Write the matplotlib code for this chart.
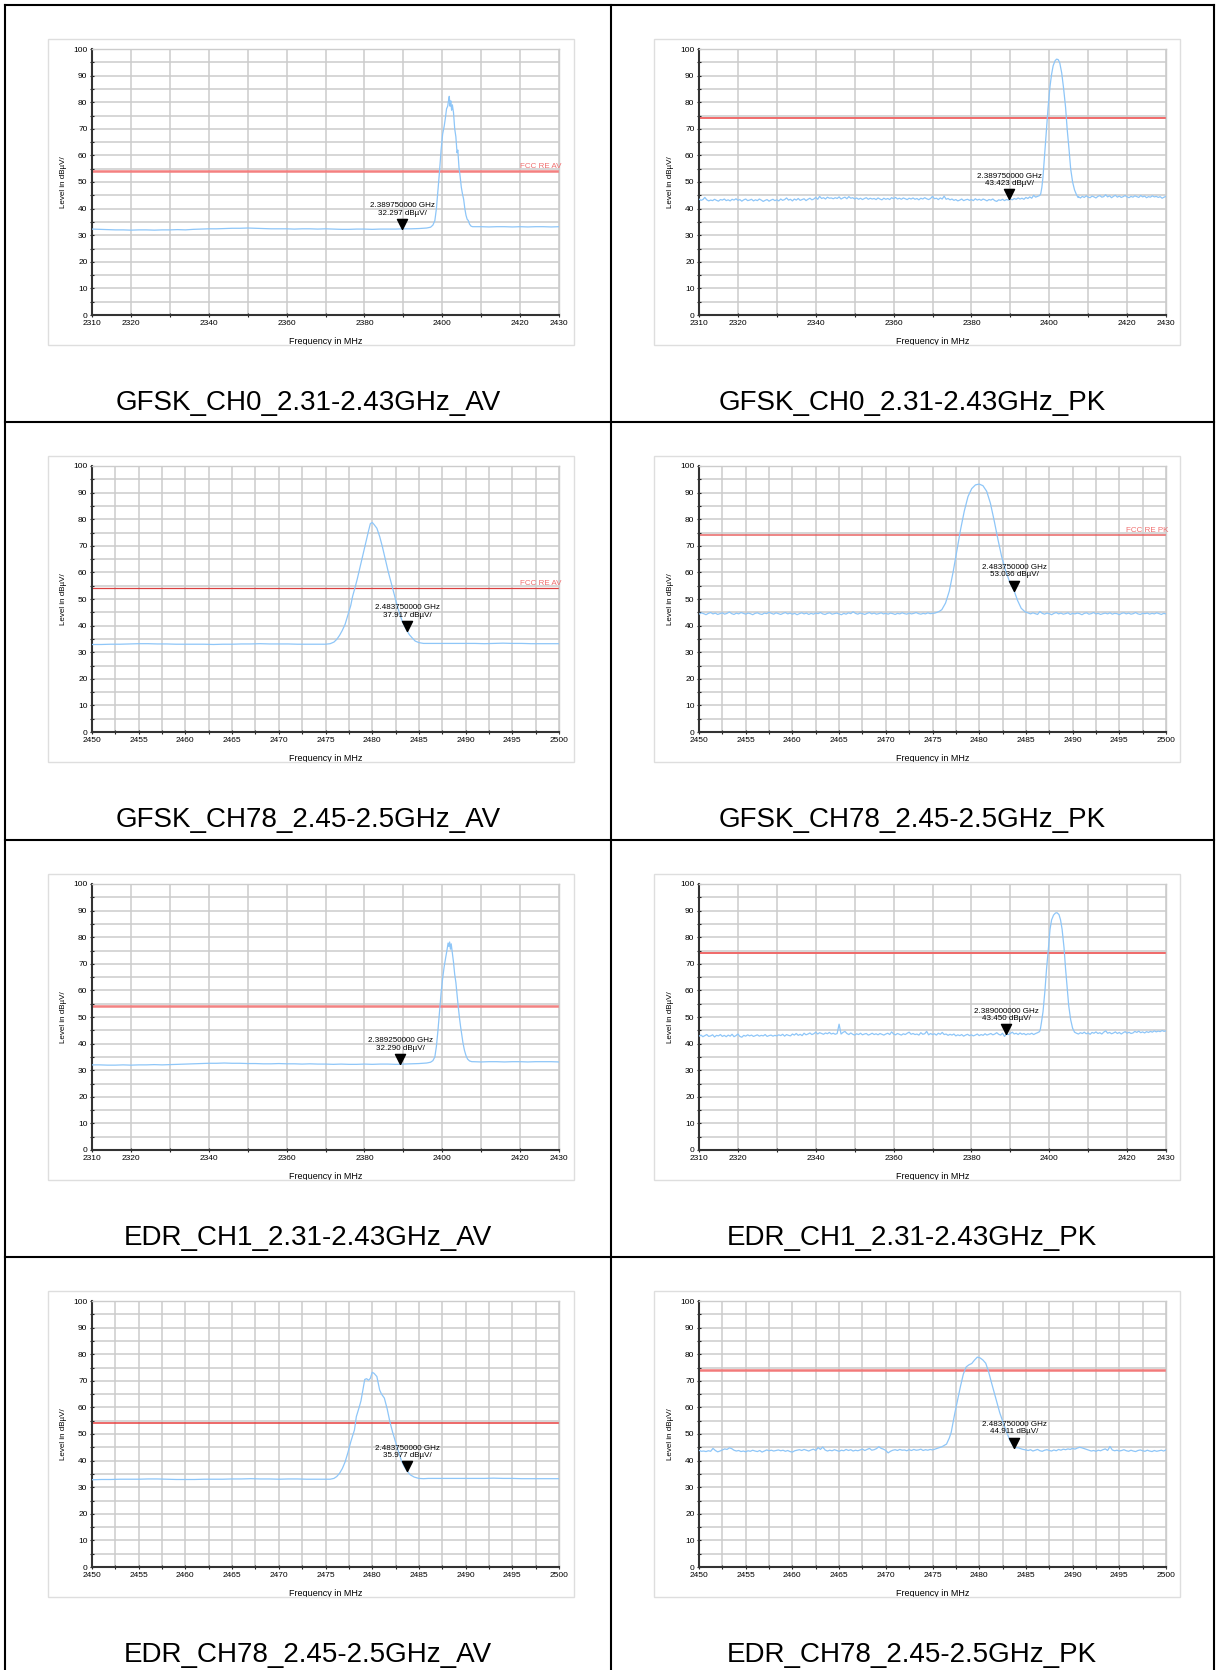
import numpy as np
import matplotlib
matplotlib.use("Agg")
import matplotlib.pyplot as plt
from matplotlib.patches import Rectangle
from matplotlib.lines import Line2D

plt.rcParams['font.family'] = ['Liberation Sans', 'DejaVu Sans']

# ---------------- panel info ----------------
titles = ["GFSK_CH0_2.31-2.43GHz_AV", "GFSK_CH0_2.31-2.43GHz_PK",
          "GFSK_CH78_2.45-2.5GHz_AV", "GFSK_CH78_2.45-2.5GHz_PK",
          "EDR_CH1_2.31-2.43GHz_AV", "EDR_CH1_2.31-2.43GHz_PK",
          "EDR_CH78_2.45-2.5GHz_AV", "EDR_CH78_2.45-2.5GHz_PK"]
spans = [(2310, 2430), (2310, 2430), (2450, 2500), (2450, 2500),
         (2310, 2430), (2310, 2430), (2450, 2500), (2450, 2500)]
limit_db = [54, 74, 54, 74, 54, 74, 54, 74]
limit_names = ["FCC RE AV", "", "FCC RE AV", "FCC RE PK", "", "", "", ""]
marker_mhz = [2389.75, 2389.75, 2483.75, 2483.75, 2389.25, 2389.0, 2483.75, 2483.75]
marker_db = [32.297, 43.423, 37.917, 53.036, 32.290, 43.450, 35.977, 44.911]
marker_ghz = ["2.389750000", "2.389750000", "2.483750000", "2.483750000",
              "2.389250000", "2.389000000", "2.483750000", "2.483750000"]

wide_ticks = [2310, 2320, 2340, 2360, 2380, 2400, 2420, 2430]
narrow_ticks = [2450, 2455, 2460, 2465, 2470, 2475, 2480, 2485, 2490, 2495, 2500]
y_ticks = [0, 10, 20, 30, 40, 50, 60, 70, 80, 90, 100]

# floor grids: (start, step) of the low part and the high part of each trace
lo_grid = [(2310, 2), (2310, 0.5), (2450, 1), (2450, 0.25),
           (2310, 2), (2310, 0.5), (2450, 1), (2450, 0.25)]
hi_grid = [(2408, 2), (2407.5, 0.5), (2486, 1), (2485.5, 0.25),
           (2408, 2), (2407.5, 0.5), (2486, 1), (2485.25, 0.25)]

# ---------------- traces (dBuV/) ----------------
# 1 GFSK CH0 AV
p1_lo = [32.3, 32.2, 32.1, 32.0, 32.0, 31.9, 32.0, 32.0, 31.9, 32.0, 32.0, 32.1, 32.0,
         32.2, 32.3, 32.4, 32.4, 32.5, 32.6, 32.6, 32.7, 32.6, 32.5, 32.4, 32.4, 32.4,
         32.3, 32.4, 32.4, 32.3, 32.4, 32.3, 32.2, 32.2, 32.3, 32.3, 32.2, 32.3, 32.3,
         32.3, 32.4, 32.4, 32.5, 32.7]
p1_pk_f = [2397.0, 2397.6, 2398.1, 2398.5, 2398.9, 2399.3, 2399.7, 2400.1, 2400.5, 2400.8,
           2401.1, 2401.4, 2401.6, 2401.8, 2402.0, 2402.2, 2402.4, 2402.6, 2402.9, 2403.2,
           2403.5, 2403.8, 2404.0, 2404.3, 2404.6, 2404.9, 2405.2, 2405.5, 2405.8, 2406.1,
           2406.4, 2406.7, 2407.0, 2407.4, 2407.8]
p1_pk_db = [33.0, 33.8, 35.5, 40.0, 47.0, 54.0, 62.0, 68.0, 71.0, 74.0,
            77.5, 78.5, 80.5, 82.2, 78.5, 80.5, 77.0, 79.0, 76.0, 70.0,
            67.0, 61.0, 62.0, 55.5, 52.0, 48.0, 45.5, 43.5, 40.0, 37.5,
            36.0, 35.5, 34.2, 33.4, 33.2]
p1_hi = [33.2, 33.2, 33.1, 33.2, 33.2, 33.1, 33.2, 33.1, 33.2, 33.2, 33.1, 33.2]

# 2 GFSK CH0 PK
p2_lo = [43.6, 43.1, 43.4, 44.2, 43.3, 42.9, 43.2, 43.0, 43.5, 43.1,
         42.8, 43.4, 43.2, 43.6, 43.0, 43.3, 42.9, 43.5, 43.2, 43.7,
         43.1, 43.4, 42.8, 43.3, 43.6, 43.0, 43.2, 43.5, 42.9, 43.3,
         43.0, 43.6, 43.2, 42.7, 43.1, 43.4, 42.8, 43.2, 43.5, 43.0,
         43.3, 42.9, 43.6, 43.1, 43.4, 44.0, 43.2, 43.5, 42.9, 43.6,
         43.2, 43.8, 43.1, 43.4, 43.7, 43.0, 43.5, 43.9, 43.3, 43.6,
         44.2, 43.5, 44.6, 43.8, 44.1, 43.6, 44.3, 43.9, 44.0, 43.7,
         44.1, 43.8, 44.4, 43.6, 44.0, 44.3, 43.7, 44.5, 43.9, 44.1,
         43.6, 44.0, 43.5, 43.9, 43.4, 43.8, 44.1, 43.5, 43.9, 43.6,
         43.8, 43.4, 44.0, 43.6, 43.3, 43.9, 43.5, 43.8, 43.4, 44.1,
         43.7, 44.2, 43.6, 43.9, 43.5, 44.0, 43.7, 43.4, 43.9, 43.6,
         44.0, 43.5, 43.8, 43.3, 43.9, 43.6, 44.1, 43.7, 43.4, 43.8,
         44.6, 43.7, 43.9, 43.4, 44.0, 43.6, 44.7, 43.5, 43.8, 43.3,
         43.6, 43.1, 43.4, 42.9, 43.2, 43.6, 43.0, 43.3, 43.5, 43.1,
         43.4, 43.0, 43.7, 43.2, 43.5, 43.1, 43.6, 43.3, 42.9, 43.4,
         43.2, 43.6, 43.0, 42.7, 43.3, 43.1, 43.5, 43.0, 43.4, 43.2,
         43.6, 43.3, 43.8, 43.5, 44.0, 43.6, 43.9, 43.5, 44.2, 43.8,
         44.4, 43.9, 45.0, 44.3, 44.6, 44.9]
p2_pk_f = [2397.8, 2398.1, 2398.4, 2398.8, 2399.3, 2399.7, 2400.2, 2400.6, 2401.0, 2401.5,
           2401.9, 2402.3, 2402.7, 2403.2, 2403.7, 2404.2, 2404.6, 2405.1, 2405.5, 2406.0,
           2406.5, 2407.0, 2407.4]
p2_pk_db = [45.5, 48.0, 52.0, 60.0, 70.0, 78.0, 86.0, 90.5, 93.7, 95.6,
            96.2, 96.0, 94.8, 91.0, 85.0, 78.0, 70.0, 62.0, 55.0, 50.0,
            47.0, 45.2, 44.2]
p2_hi = [44.5, 44.0, 44.6, 44.2, 44.8, 44.3, 44.1, 44.7, 44.4, 44.0,
         44.6, 44.9, 44.3, 44.5, 45.2, 44.4, 44.8, 44.1, 44.6, 45.0,
         44.3, 44.7, 44.2, 44.5, 44.9, 44.4, 44.1, 44.6, 44.3, 44.8,
         44.5, 44.2, 44.9, 44.4, 44.7, 44.1, 44.5, 44.3, 44.8, 44.4,
         44.6, 44.2, 44.5, 43.9, 44.3, 44.6]

# 3 GFSK CH78 AV
p3_lo = [32.9, 32.9, 33.0, 33.0, 33.1, 33.2, 33.2, 33.1, 33.1, 33.0, 33.0, 33.0, 33.0,
         32.9, 33.0, 33.0, 33.1, 33.1, 33.2, 33.1, 33.1, 33.1, 33.0, 33.0, 33.0, 33.0]
p3_pk_f = [2475.5, 2475.9, 2476.2, 2476.5, 2476.8, 2477.1, 2477.4, 2477.7, 2477.9, 2478.1,
           2478.4, 2478.7, 2479.0, 2479.3, 2479.6, 2479.8, 2480.0, 2480.2, 2480.5, 2480.8,
           2481.1, 2481.4, 2481.7, 2482.0, 2482.3, 2482.6, 2482.9, 2483.2, 2483.5, 2483.75,
           2484.0, 2484.3, 2484.6, 2485.0, 2485.5]
p3_pk_db = [33.2, 33.8, 34.8, 36.3, 38.2, 40.5, 44.0, 47.5, 51.0, 53.5,
            57.5, 62.0, 66.5, 71.0, 75.5, 78.3, 78.8, 78.0, 76.6, 73.5,
            69.5, 65.0, 60.5, 56.5, 52.5, 48.5, 44.8, 41.8, 39.6, 37.9,
            36.5, 35.3, 34.2, 33.6, 33.3]
p3_hi = [33.3, 33.3, 33.3, 33.3, 33.3, 33.3, 33.2, 33.3, 33.4, 33.3, 33.3, 33.2, 33.2, 33.2, 33.2]

# 4 GFSK CH78 PK
p4_lo = [44.3, 44.8, 44.5, 44.1, 44.6, 44.9, 44.4, 44.7, 44.2, 44.5,
         44.8, 44.3, 44.6, 45.1, 44.5, 44.2, 44.7, 44.4, 44.9, 44.6,
         44.3, 44.7, 44.5, 44.1, 44.6, 44.8, 44.4, 44.2, 44.7, 44.5,
         45.0, 44.6, 44.3, 44.8, 44.5, 44.2, 44.6, 44.9, 44.4, 44.7,
         44.3, 44.6, 44.1, 44.5, 44.8, 44.4, 44.7, 44.2, 44.6, 44.3,
         44.7, 44.5, 44.9, 44.4, 44.2, 44.6, 44.8, 44.3, 44.5, 44.7,
         44.4, 44.1, 44.6, 44.3, 44.8, 44.5, 45.2, 44.6, 44.3, 44.7,
         44.5, 44.2, 44.6, 44.9, 44.4, 44.7, 44.3, 44.5, 44.8, 44.4,
         44.6, 44.3, 44.7, 44.5, 44.2, 44.6, 44.4, 44.8, 44.5, 44.3,
         44.7, 44.4, 44.6, 44.9, 44.5, 44.3, 44.6, 44.4, 44.8, 44.5,
         44.6, 44.7, 45.0, 45.4]
p4_pk_f = [2476.0, 2476.4, 2476.8, 2477.2, 2477.6, 2478.0, 2478.4, 2478.8, 2479.2, 2479.6,
           2480.0, 2480.4, 2480.8, 2481.2, 2481.6, 2482.0, 2482.4, 2482.8, 2483.2, 2483.75,
           2484.1, 2484.5, 2484.9, 2485.2]
p4_pk_db = [46.0, 48.5, 53.0, 60.0, 68.0, 76.0, 83.0, 88.5, 91.5, 92.9,
            93.2, 92.6, 90.5, 86.0, 79.5, 72.5, 66.0, 61.0, 57.0, 53.0,
            49.5, 46.5, 45.2, 44.8]
p4_hi = [44.4, 44.8, 44.5, 44.2, 45.3, 44.6, 44.3, 44.7, 44.5, 44.1,
         44.6, 44.9, 44.4, 44.7, 44.3, 44.5, 44.8, 44.2, 44.6, 44.4,
         44.7, 44.5, 44.1, 44.6, 44.8, 44.3, 44.5, 44.9, 44.4, 44.6,
         44.2, 44.5, 44.7, 44.4, 44.8, 44.3, 44.6, 44.5, 44.1, 44.6,
         44.8, 44.4, 44.7, 44.3, 44.5, 44.9, 44.4, 44.2, 44.6, 44.5,
         44.7, 44.3, 44.6, 44.4, 44.8, 44.5, 44.2, 44.6, 44.4]

# 5 EDR CH1 AV
p5_lo = [32.0, 32.0, 31.9, 31.9, 32.0, 31.9, 32.0, 32.0, 32.1, 32.0, 32.1,
         32.2, 32.3, 32.4, 32.5, 32.6, 32.6, 32.7, 32.6, 32.6, 32.5,
         32.5, 32.4, 32.4, 32.5, 32.4, 32.4, 32.3, 32.4, 32.3, 32.3,
         32.2, 32.3, 32.2, 32.2, 32.3, 32.2, 32.3, 32.3, 32.2, 32.3,
         32.4, 32.5, 32.7]
p5_pk_f = [2397.0, 2397.6, 2398.1, 2398.5, 2398.9, 2399.3, 2399.7, 2400.1, 2400.5, 2400.9,
           2401.2, 2401.5, 2401.7, 2401.9, 2402.1, 2402.3, 2402.6, 2402.9, 2403.2, 2403.5,
           2403.8, 2404.1, 2404.4, 2404.7, 2405.0, 2405.3, 2405.7, 2406.1, 2406.5, 2407.0,
           2407.6]
p5_pk_db = [33.0, 33.6, 35.0, 39.0, 45.0, 52.0, 59.0, 64.5, 69.0, 72.5,
            75.0, 77.8, 76.5, 78.2, 75.5, 77.5, 74.0, 70.5, 66.0, 63.0,
            58.5, 54.0, 50.0, 46.5, 43.5, 40.5, 37.5, 35.5, 34.2, 33.5,
            33.2]
p5_hi = [33.2, 33.1, 33.2, 33.2, 33.1, 33.2, 33.2, 33.1, 33.2, 33.2, 33.2, 33.1]

# 6 EDR CH1 PK
p6_lo = [42.8, 43.2, 42.6, 43.0, 43.4, 42.7, 42.9, 43.3, 42.5, 43.1,
         42.9, 43.4, 42.7, 43.1, 42.6, 43.2, 42.8, 43.5, 42.6, 43.0,
         43.6, 42.7, 42.4, 43.1, 42.8, 43.3, 42.9, 43.2, 42.7, 43.0,
         43.3, 42.8, 43.1, 42.9, 43.4, 42.7, 43.0, 43.2, 42.8, 43.1,
         42.9, 43.3, 43.0, 43.5, 42.8, 43.4, 43.1, 42.9, 43.6, 43.2,
         43.8, 43.1, 43.5, 43.0, 43.9, 43.3, 43.6, 44.0, 43.4, 43.7,
         44.3, 43.6, 44.1, 43.8, 43.5, 44.0, 43.7, 44.2, 43.6, 43.9,
         43.5, 43.8, 47.3, 43.6, 44.2, 44.6, 43.8, 43.4, 44.0, 43.5,
         43.2, 43.7, 43.4, 43.9, 43.3, 43.6, 43.8, 43.2, 43.5, 43.9,
         43.4, 43.7, 43.3, 43.8, 43.5, 43.2, 43.6, 43.9, 43.4, 44.4,
         43.6, 43.3, 43.8, 43.5, 43.2, 43.7, 43.4, 43.9, 44.3, 43.5,
         43.8, 43.4, 43.6, 43.2, 44.1, 43.5, 43.7, 44.6, 43.3, 43.8,
         43.4, 43.7, 43.2, 43.9, 43.5, 44.2, 43.4, 43.6, 43.1, 43.5,
         43.2, 43.6, 42.9, 43.3, 43.0, 43.4, 42.8, 43.2, 43.5, 43.0,
         43.3, 42.9, 43.2, 43.6, 43.0, 43.4, 43.1, 43.7, 43.2, 43.5,
         43.8, 43.3, 43.6, 44.1, 43.5, 43.2, 43.9, 42.7, 43.6, 43.4,
         43.8, 44.3, 43.6, 43.9, 43.4, 44.0, 43.5, 43.8, 43.3, 43.7,
         43.5, 43.9, 43.4, 43.8, 44.1, 44.5]
p6_pk_f = [2397.7, 2398.0, 2398.4, 2398.9, 2399.3, 2399.8, 2400.2, 2400.6, 2401.1, 2401.6,
           2402.0, 2402.5, 2402.9, 2403.3, 2403.8, 2404.2, 2404.6, 2405.0, 2405.5, 2406.0,
           2406.5, 2407.0]
p6_pk_db = [45.3, 48.0, 52.0, 60.0, 68.0, 76.0, 83.0, 86.5, 88.3, 89.1,
            89.2, 88.5, 86.5, 83.0, 76.0, 68.0, 61.0, 54.3, 49.0, 45.8,
            44.3, 43.9]
p6_hi = [43.6, 44.1, 43.8, 44.3, 43.7, 44.0, 43.5, 44.2, 43.9, 44.4,
         43.8, 44.1, 43.6, 44.3, 44.8, 43.9, 44.2, 43.7, 44.0, 44.4,
         43.8, 44.2, 43.6, 44.1, 44.5, 43.9, 44.3, 43.8, 44.0, 44.6,
         44.2, 44.7, 44.1, 44.4, 44.0, 44.5, 44.2, 44.6, 44.3, 44.8,
         44.4, 44.7, 44.5, 44.9, 44.6, 44.8]

# 7 EDR CH78 AV
p7_lo = [32.8, 32.9, 32.9, 33.0, 33.0, 33.0, 33.1, 33.1, 33.0, 32.9, 32.9, 32.9, 33.0,
         33.0, 33.0, 33.1, 33.1, 33.2, 33.1, 33.1, 33.0, 33.1, 33.1, 33.0, 33.0, 33.0]
p7_pk_f = [2475.5, 2475.9, 2476.2, 2476.5, 2476.8, 2477.1, 2477.4, 2477.7, 2477.9, 2478.1,
           2478.3, 2478.6, 2478.8, 2479.0, 2479.2, 2479.4, 2479.6, 2479.8, 2480.0, 2480.2,
           2480.5, 2480.8, 2481.0, 2481.3, 2481.6, 2481.9, 2482.2, 2482.5, 2482.8, 2483.1,
           2483.4, 2483.75, 2484.1, 2484.5, 2485.0, 2485.5]
p7_pk_db = [33.0, 33.3, 34.0, 35.2, 37.0, 39.5, 43.0, 47.0, 49.3, 51.5,
            56.5, 60.0, 62.5, 66.5, 70.5, 70.8, 70.2, 70.9, 73.2, 72.8,
            71.6, 66.5, 65.0, 63.5, 59.5, 54.5, 50.5, 47.0, 43.5, 40.3,
            38.0, 36.0, 34.6, 33.8, 33.3, 33.2]
p7_hi = [33.3, 33.3, 33.3, 33.3, 33.3, 33.3, 33.3, 33.4, 33.3, 33.3, 33.2, 33.2, 33.2, 33.2, 33.2]

# 8 EDR CH78 PK
p8_lo = [43.9, 43.5, 43.6, 43.4, 43.7, 43.5, 44.6, 43.8, 43.3, 43.6,
         44.0, 44.4, 44.2, 44.8, 44.5, 43.9, 43.6, 43.8, 43.4, 43.6,
         43.3, 43.7, 43.5, 43.9, 43.6, 43.4, 43.8, 43.2, 43.6, 44.0,
         43.7, 43.9, 43.6, 43.8, 44.0, 43.7, 43.9, 43.5, 43.8, 43.4,
         43.2, 43.7, 43.9, 44.1, 43.8, 44.2, 43.9, 43.6, 44.0, 44.3,
         43.8, 44.9, 44.2, 45.1, 44.0, 43.6, 43.9, 43.7, 44.1, 43.8,
         43.5, 43.9, 43.7, 44.2, 43.8, 44.1, 43.6, 43.9, 43.7, 44.0,
         44.3, 43.8, 44.2, 44.6, 43.9, 44.1, 44.5, 45.2, 44.6, 44.3,
         43.8, 42.9, 43.5, 43.9, 44.1, 43.8, 44.2, 43.9, 44.0, 43.7,
         44.1, 43.8, 44.2, 43.9, 44.0, 44.3, 43.8, 44.1, 43.9, 44.2,
         44.0, 44.3, 44.6, 44.9]
p8_pk_f = [2476.0, 2476.5, 2476.8, 2477.0, 2477.4, 2477.7, 2478.0, 2478.3, 2478.6, 2478.9,
           2479.2, 2479.5, 2479.8, 2480.1, 2480.4, 2480.7, 2481.0, 2481.3, 2481.7, 2482.2,
           2482.8, 2483.3, 2483.75, 2484.2, 2484.6, 2485.0]
p8_pk_db = [45.2, 46.2, 48.5, 50.6, 58.0, 63.0, 68.0, 72.5, 75.2, 76.0,
            76.5, 77.8, 78.9, 78.6, 77.8, 76.6, 73.5, 69.5, 64.4, 58.0,
            51.9, 47.5, 44.9, 44.8, 44.3, 44.0]
p8_hi = [43.8, 44.1, 43.6, 43.9, 44.2, 43.7, 43.5, 43.9, 44.1, 43.8,
         43.6, 44.0, 43.7, 44.2, 43.9, 44.3, 44.1, 44.4, 44.2, 44.6,
         44.3, 44.7, 45.0, 44.8, 44.5, 44.2, 43.9, 43.6, 43.8, 43.5,
         43.9, 43.7, 44.1, 44.4, 43.8, 45.3, 44.0, 43.7, 43.9, 43.6,
         43.8, 44.1, 43.7, 43.5, 43.9, 43.6, 43.4, 43.8, 44.0, 43.7,
         43.5, 43.9, 43.6, 43.4, 43.8, 43.5, 43.7, 43.9, 43.6, 44.0]

traces = [(p1_lo, p1_pk_f, p1_pk_db, p1_hi), (p2_lo, p2_pk_f, p2_pk_db, p2_hi),
          (p3_lo, p3_pk_f, p3_pk_db, p3_hi), (p4_lo, p4_pk_f, p4_pk_db, p4_hi),
          (p5_lo, p5_pk_f, p5_pk_db, p5_hi), (p6_lo, p6_pk_f, p6_pk_db, p6_hi),
          (p7_lo, p7_pk_f, p7_pk_db, p7_hi), (p8_lo, p8_pk_f, p8_pk_db, p8_hi)]

# limit line look per panel
lim_colors = ['#f48080', '#f06a6a', '#d94040', '#e86464', '#f28282', '#f06868', '#e84040', '#f27a7a']
lim_widths = [1.8, 1.4, 0.9, 1.1, 1.8, 1.4, 1.1, 1.8]
trace_color = '#8ec6f8'
grid_color = '#cccccc'


def build_trace(i):
    lo, pf, pdb, hi = traces[i]
    f_lo = lo_grid[i][0] + lo_grid[i][1] * np.arange(len(lo))
    f_hi = hi_grid[i][0] + hi_grid[i][1] * np.arange(len(hi))
    f = np.concatenate([f_lo, pf, f_hi])
    db = np.concatenate([lo, pdb, hi])
    return f, db


# ---------------- layout (pixels) ----------------
W, H = 1216, 1670
fig = plt.figure(figsize=(W / 100, H / 100), dpi=100)
fig.patch.set_facecolor('white')

row_tops = [5, 422, 840, 1257]
axes_left = [92, 699]
frame_left = [48, 654]
cell_center = [308, 912]
ax_w, ax_h = 467, 266


def fx(x):
    return x / W


def fy(y):
    return 1 - y / H


for i in range(8):
    r, c = divmod(i, 2)
    top = row_tops[r]

    # light frame round the chart picture
    fig.add_artist(Rectangle((fx(frame_left[c]), fy(top + 34 + 306)), 526 / W, 306 / H,
                             transform=fig.transFigure, fill=False, ec='#dedede', lw=1.0))

    ax = fig.add_axes([fx(axes_left[c]), fy(top + 44 + ax_h), ax_w / W, ax_h / H])
    f0, f1 = spans[i]
    ax.set_xlim(f0, f1)
    ax.set_ylim(0, 100)

    if f0 == 2310:
        ax.set_xticks(wide_ticks)
        ax.set_xticks(np.arange(f0, f1 + 1, 10), minor=True)
        ax.set_xticklabels([str(t) for t in wide_ticks])
    else:
        ax.set_xticks(narrow_ticks)
        ax.set_xticks(np.arange(f0, f1 + 0.1, 2.5), minor=True)
        ax.set_xticklabels([str(t) for t in narrow_ticks])
    ax.set_yticks(y_ticks)
    ax.set_yticks(np.arange(5, 100, 10), minor=True)
    ax.set_yticklabels([str(t) for t in y_ticks])

    ax.set_axisbelow(True)
    ax.grid(True, which='both', color=grid_color, lw=1.1)
    ax.tick_params(which='both', direction='inout', length=3.5, width=0.8,
                   color='#222222', labelsize=6, pad=1.5)
    for s in ['left', 'bottom']:
        ax.spines[s].set_color('#333333')
        ax.spines[s].set_linewidth(1.5)
    for s in ['top', 'right']:
        ax.spines[s].set_color('#cccccc')
        ax.spines[s].set_linewidth(1.0)

    ax.text(0.5, -0.098, 'Frequency in MHz', transform=ax.transAxes,
            ha='center', va='center', fontsize=6.5)
    ax.text(-0.060, 0.5, 'Level in dB\u00b5V/', transform=ax.transAxes,
            ha='center', va='center', rotation=90, fontsize=5.8)

    # limit line
    ax.axhline(limit_db[i], color=lim_colors[i], lw=lim_widths[i], zorder=2)
    if limit_names[i]:
        ax.text(1.006, limit_db[i] + 1.8, limit_names[i], transform=ax.get_yaxis_transform(),
                ha='right', va='center', fontsize=5.8, color='#f07070')

    # trace
    f, db = build_trace(i)
    ax.plot(f, db, color=trace_color, lw=0.9, zorder=3)

    # marker: downward triangle with its tip on the trace
    ax.plot([marker_mhz[i]], [marker_db[i]], linestyle='none', color='black',
            marker=[(0, 0), (-0.5, 1), (0.5, 1), (0, 0)], markersize=14.5, zorder=5)
    ax.annotate(marker_ghz[i] + ' GHz\n' + '%.3f dB\u00b5V/' % marker_db[i],
                xy=(marker_mhz[i], marker_db[i]), xytext=(0, 9),
                textcoords='offset points', ha='center', va='bottom',
                fontsize=5.8, linespacing=1.05, zorder=6)

    # caption of the table cell
    fig.text(fx(cell_center[c]), fy(top + 398), titles[i], ha='center', va='center', fontsize=20)

# table lines
tab = dict(transform=fig.transFigure, color='black', lw=1.5)
for x in [5, 611, 1214]:
    fig.add_artist(Line2D([fx(x), fx(x)], [fy(5), fy(H + 5)], **tab))
for y in row_tops:
    fig.add_artist(Line2D([fx(5), fx(1214)], [fy(y), fy(y)], **tab))

fig.savefig('out.png', dpi=100, facecolor='white')
